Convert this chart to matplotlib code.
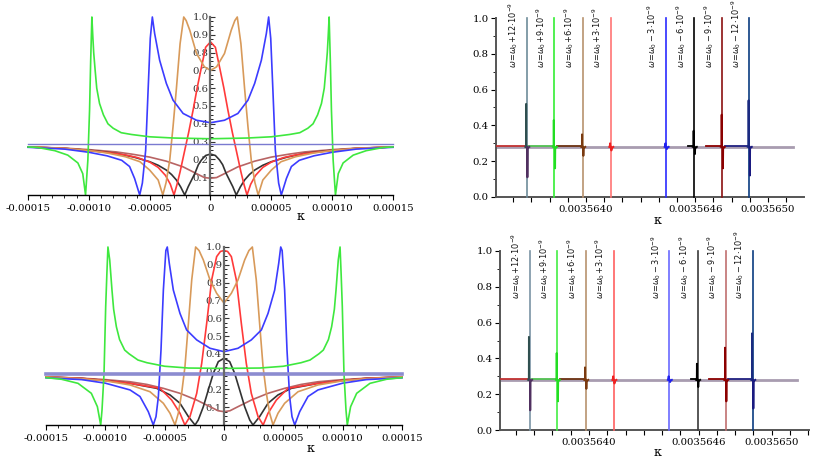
import matplotlib
matplotlib.use('Agg')
import matplotlib.pyplot as plt
import numpy as np
from matplotlib.ticker import MultipleLocator, FixedLocator, FuncFormatter

# ---------------- data (left panels, positive half, kappa in units of 1e-5) -------------
top_green_k = [0, 3, 5, 6.5, 7.34, 8.0, 8.43, 8.8, 9.12, 9.35, 9.48, 9.6, 9.67, 9.75, 9.85, 9.94, 10.08, 10.27, 10.5, 10.9, 11.73, 12.8, 14.2, 15]
top_green_y = [0.316, 0.32, 0.327, 0.34, 0.35, 0.375, 0.40, 0.45, 0.514, 0.6, 0.70, 0.8, 0.888, 1.0, 0.75, 0.477, 0.196, 0.0, 0.12, 0.18, 0.224, 0.249, 0.267, 0.27]
top_blue_k = [0, 1.15, 2.25, 3.08, 3.63, 4.18, 4.59, 4.78, 4.95, 5.14, 5.33, 5.6, 5.82, 6.24, 6.65, 7.3, 8.5, 10, 12, 15]
top_blue_y = [0.406, 0.42, 0.458, 0.533, 0.627, 0.757, 0.907, 1.0, 0.88, 0.57, 0.25, 0.067, 0.0, 0.093, 0.16, 0.195, 0.22, 0.24, 0.258, 0.268]
top_tan_k = [0, 0.5, 1.15, 1.7, 2.0, 2.2, 2.5, 2.8, 3.08, 3.35, 3.65, 3.92, 4.3, 5.0, 5.8, 7.0, 8.5, 10, 12, 15]
top_tan_y = [0.70, 0.72, 0.795, 0.925, 0.98, 1.0, 0.85, 0.6, 0.383, 0.196, 0.07, 0.0, 0.084, 0.14, 0.187, 0.215, 0.236, 0.25, 0.262, 0.27]
top_red_k = [0, 0.4, 0.74, 1.1, 1.43, 1.8, 2.12, 2.5, 2.75, 3.0, 3.3, 3.7, 4.3, 5.0, 6.0, 7.0, 8.0, 10, 12, 15]
top_red_y = [0.86, 0.83, 0.72, 0.6, 0.477, 0.35, 0.25, 0.13, 0.06, 0.0, 0.06, 0.11, 0.155, 0.185, 0.21, 0.225, 0.235, 0.25, 0.262, 0.27]
top_black_k = [0, 0.4, 0.74, 1.0, 1.28, 1.55, 1.83, 2.12, 2.45, 2.8, 3.2, 3.63, 4.3, 5.0, 6.3, 7.75, 9.5, 12, 15]
top_black_y = [0.23, 0.222, 0.197, 0.17, 0.122, 0.085, 0.047, 0.0, 0.045, 0.084, 0.115, 0.14, 0.167, 0.187, 0.213, 0.234, 0.248, 0.262, 0.27]
top_rosy_k = [0, 0.5, 1.15, 2.25, 3.63, 5.0, 6.5, 7.75, 10, 12, 15]
top_rosy_y = [0.094, 0.098, 0.12, 0.158, 0.19, 0.213, 0.23, 0.242, 0.255, 0.263, 0.27]
top_level = 0.284

bot_green_k = [0, 3, 5, 6.5, 7.25, 8.0, 8.37, 8.8, 9.07, 9.3, 9.44, 9.63, 9.78, 9.87, 9.97, 10.11, 10.28, 10.39, 10.67, 11.18, 12.3, 13.7, 15]
bot_green_y = [0.318, 0.32, 0.33, 0.35, 0.365, 0.4, 0.421, 0.48, 0.552, 0.65, 0.758, 0.927, 1.0, 0.85, 0.665, 0.29, 0.084, 0.0, 0.103, 0.178, 0.234, 0.257, 0.266]
bot_blue_k = [0, 1.18, 2.3, 3.15, 3.71, 4.27, 4.61, 4.78, 4.9, 5.11, 5.31, 5.53, 5.73, 5.96, 6.38, 7.08, 7.92, 10, 12, 15]
bot_blue_y = [0.412, 0.431, 0.478, 0.534, 0.627, 0.758, 0.908, 1.0, 0.98, 0.758, 0.42, 0.16, 0.047, 0.0, 0.075, 0.16, 0.197, 0.235, 0.255, 0.265]
bot_tan_k = [0, 0.62, 1.18, 1.74, 2.1, 2.39, 2.72, 3.0, 3.29, 3.57, 3.85, 4.13, 4.55, 5.11, 6.24, 7.92, 10, 12, 15]
bot_tan_y = [0.685, 0.74, 0.815, 0.927, 0.98, 1.0, 0.815, 0.571, 0.328, 0.178, 0.066, 0.0, 0.066, 0.122, 0.187, 0.225, 0.248, 0.26, 0.27]
bot_red_k = [0, 0.3, 0.62, 1.04, 1.46, 1.88, 2.3, 2.87, 3.3, 3.71, 4.41, 5.39, 7.92, 10, 12, 15]
bot_red_y = [0.98, 0.975, 0.946, 0.815, 0.571, 0.346, 0.178, 0.047, 0.0, 0.066, 0.14, 0.206, 0.234, 0.25, 0.262, 0.27]
bot_black_k = [0, 0.48, 0.9, 1.32, 1.74, 2.17, 2.44, 3.0, 3.71, 4.55, 5.67, 7.92, 10, 12, 15]
bot_black_y = [0.375, 0.356, 0.29, 0.197, 0.103, 0.028, 0.0, 0.047, 0.122, 0.169, 0.206, 0.234, 0.25, 0.262, 0.27]
bot_rosy_k = [0, 0.5, 1.18, 2.3, 3.71, 5.11, 6.5, 7.92, 10, 12, 15]
bot_rosy_y = [0.075, 0.08, 0.103, 0.14, 0.178, 0.206, 0.228, 0.243, 0.255, 0.263, 0.27]
bot_level = 0.286

# ---------------- data (right panels) ----------------
res_shift = ['+12', '+9', '+6', '+3', '-3', '-6', '-9', '-12']
res_kappa = [0.0035636745, 0.0035638265, 0.0035639820, 0.0035641360,
             0.0035644400, 0.0035645950, 0.0035647490, 0.0035648970]
res_peak = [0.52, 0.43, 0.35, 0.30, 0.30, 0.37, 0.46, 0.54]
res_dip = [0.11, 0.16, 0.23, 0.26, 0.27, 0.24, 0.16, 0.12]
base_level = 0.28
base_start = 0.0035635055
base_end = 0.0035651400
# coloured baseline pieces (start, end) for resonances +12, +9, +6, -6, -9, -12
seg_start = [0.0035635055, 0.0035636760, 0.0035638410, 0.0035645600, 0.0035646590, 0.0035647640]
seg_end = [0.0035636650, 0.0035638190, 0.0035639780, 0.0035645930, 0.0035647470, 0.0035648900]
right_xticks_labeled = [0.0035640, 0.0035646, 0.0035650]

# ---------------- styles ----------------
c_green, c_blue, c_tan, c_red, c_black, c_rosy = '#3ee83e', '#3c3cff', '#d89a5a', '#ff3a3a', '#333333', '#b86464'
top_line_cols = ['#6e8c9a', '#33ee33', '#b8926e', '#ff7474', '#2a2aff', '#000000', '#8b1010', '#0a3c80']
bot_line_cols = ['#7a94a4', '#44ee44', '#b8926e', '#ff6060', '#6a6aff', '#3a3a3a', '#c07070', '#0a3c80']
up_cols = ['#2f4f4f', '#22dd22', '#7a3a10', '#ee2020', '#2020ee', '#000000', '#8b0000', '#1a2a80']
dn_cols = ['#503060', '#22dd22', '#7a3a10', '#ee2020', '#2020ee', '#000000', '#8b0000', '#1a1a80']
seg_cols = ['#c03030', '#50c050', '#6b3010', '#000000', '#8b0000', '#202080']

TICKFONT = dict(family='DejaVu Serif', size=7.3)

fig = plt.figure(figsize=(8.17, 4.63), dpi=100)


def mirror(k, y):
    k = np.asarray(k) * 1e-5
    y = np.asarray(y)
    return np.concatenate([-k[::-1], k[1:]]), np.concatenate([y[::-1], y[1:]])


def xfmt_left(v, pos):
    if abs(v) < 1e-12:
        return '0'
    return f'{v:.5f}'


def setup_left(ax):
    ax.set_xlim(-15e-5, 15e-5)
    ax.set_ylim(0, 1.0)
    ax.patch.set_alpha(0)
    for s in ['top', 'right']:
        ax.spines[s].set_visible(False)
    ax.spines['left'].set_position(('data', 0))
    ax.spines['left'].set_color('#6a6a6a')
    ax.spines['left'].set_linewidth(1.6)
    ax.spines['bottom'].set_linewidth(1.0)
    ax.xaxis.set_major_locator(MultipleLocator(5e-5))
    ax.xaxis.set_minor_locator(MultipleLocator(1e-5))
    ax.xaxis.set_major_formatter(FuncFormatter(xfmt_left))
    ax.yaxis.set_major_locator(FixedLocator([0.1, 0.2, 0.3, 0.4, 0.5, 0.6, 0.7, 0.8, 0.9, 1.0]))
    ax.yaxis.set_minor_locator(MultipleLocator(0.025))
    ax.yaxis.set_major_formatter(FuncFormatter(lambda v, p: f'{v:.1f}'))
    ax.tick_params(axis='x', which='major', direction='out', length=3.5, width=0.8, pad=3)
    ax.tick_params(axis='x', which='minor', direction='out', length=2, width=0.6)
    ax.tick_params(axis='y', which='major', direction='in', length=3.5, width=0.8, pad=1.5, colors='#333333')
    ax.tick_params(axis='y', which='minor', direction='in', length=2, width=0.6)
    for lab in ax.get_xticklabels() + ax.get_yticklabels():
        lab.set_fontfamily(TICKFONT['family'])
        lab.set_fontsize(TICKFONT['size'])


def draw_left(ax, curves, level, level_lw, level_col):
    for (k, y, col) in curves:
        xx, yy = mirror(k, y)
        ax.plot(xx, yy, color=col, lw=1.2, clip_on=False, solid_joinstyle='round')
    ax.plot([-15e-5, 15e-5], [level, level], color=level_col, lw=level_lw, clip_on=False)


def xfmt_right(v, pos):
    for t in right_xticks_labeled:
        if abs(v - t) < 2e-10:
            return f'{t:.7f}'
    return ''


def setup_right(ax, xlim):
    ax.set_xlim(*xlim)
    ax.set_ylim(0, 1.0)
    ax.patch.set_alpha(0)
    for s in ['top', 'right']:
        ax.spines[s].set_visible(False)
    for s in ['left', 'bottom']:
        ax.spines[s].set_color('#555555')
        ax.spines[s].set_linewidth(1.4)
    ax.xaxis.set_major_locator(MultipleLocator(1e-7))
    ax.xaxis.set_major_formatter(FuncFormatter(xfmt_right))
    ax.yaxis.set_major_locator(MultipleLocator(0.2))
    ax.yaxis.set_minor_locator(MultipleLocator(0.1))
    ax.yaxis.set_major_formatter(FuncFormatter(lambda v, p: f'{v:.1f}'))
    ax.tick_params(axis='x', which='major', direction='out', length=3.5, width=0.8, pad=2)
    ax.tick_params(axis='y', which='major', direction='out', length=3.5, width=0.8, pad=2)
    ax.tick_params(axis='y', which='minor', direction='out', length=2, width=0.6)
    for lab in ax.get_xticklabels() + ax.get_yticklabels():
        lab.set_fontfamily(TICKFONT['family'])
        lab.set_fontsize(TICKFONT['size'])


def draw_right(ax, line_cols, label_y):
    ax.plot([base_start, base_end], [base_level, base_level], color='#a89cb0', lw=2.0, zorder=2)
    for s0, s1, c in zip(seg_start, seg_end, seg_cols):
        ax.plot([s0, s1], [base_level + 0.003, base_level + 0.003], color=c, lw=1.3, zorder=3)
    d = 1e-9
    for i, k in enumerate(res_kappa):
        ax.plot([k, k], [0, 1.0], color=line_cols[i], lw=1.2, zorder=4, clip_on=False)
        ax.plot([k - 8 * d, k - 4 * d, k - 3.5 * d, k - 3 * d, k - d],
                [base_level, base_level + 0.01, res_peak[i], base_level + 0.01, base_level],
                color=up_cols[i], lw=1.4, zorder=5)
        ax.plot([k + d, k + 3 * d, k + 3.5 * d, k + 4.5 * d, k + 8 * d, k + 14 * d],
                [base_level, base_level - 0.01, res_dip[i], base_level - 0.012, base_level - 0.004, base_level],
                color=dn_cols[i], lw=1.4, zorder=5)
        sign = res_shift[i][0]
        num = res_shift[i][1:]
        if sign == '+':
            txt = r'$\omega\!=\!\omega_0\!+\!' + num + r'\!\cdot\!10^{-9}$'
        else:
            txt = r'$\omega\!=\!\omega_0 - ' + num + r'\!\cdot\!10^{-9}$'
        ax.text(k - 7.5e-8, label_y, txt, rotation=90, ha='center', va='bottom',
                fontsize=5.9, color='#111111', zorder=6)


# ---------------- top-left ----------------
ax1 = fig.add_axes([28 / 817, 1 - 195 / 463, 365 / 817, 178 / 463])
setup_left(ax1)
draw_left(ax1, [(top_rosy_k, top_rosy_y, c_rosy), (top_black_k, top_black_y, c_black),
                (top_red_k, top_red_y, c_red), (top_tan_k, top_tan_y, c_tan),
                (top_blue_k, top_blue_y, c_blue), (top_green_k, top_green_y, c_green)],
          top_level, 1.0, '#7a7ad0')

# ---------------- bottom-left ----------------
ax3 = fig.add_axes([46 / 817, 1 - 425 / 463, 356 / 817, 178 / 463])
setup_left(ax3)
draw_left(ax3, [(bot_rosy_k, bot_rosy_y, c_rosy), (bot_black_k, bot_black_y, c_black),
                (bot_red_k, bot_red_y, c_red), (bot_tan_k, bot_tan_y, c_tan),
                (bot_blue_k, bot_blue_y, c_blue), (bot_green_k, bot_green_y, c_green)],
          bot_level, 2.6, '#8c8cd0')

# ---------------- top-right ----------------
ax2 = fig.add_axes([496 / 817, 1 - 197 / 463, 308 / 817, 179 / 463])
setup_right(ax2, (0.0035640 - 90 / 182 * 1e-6, 0.0035640 + 218 / 182 * 1e-6))
draw_right(ax2, top_line_cols, 0.72)

# ---------------- bottom-right ----------------
ax4 = fig.add_axes([500 / 817, 1 - 430 / 463, 309 / 817, 179 / 463])
setup_right(ax4, (0.0035640 - 89 / 182.5 * 1e-6, 0.0035640 + 220 / 182.5 * 1e-6))
draw_right(ax4, bot_line_cols, 0.73)

# kappa axis labels
for (x, y) in [(300, 216), (657, 220), (310, 449), (657, 453)]:
    fig.text(x / 817, 1 - y / 463, 'κ', ha='center', va='center', fontsize=9, family='DejaVu Serif')

fig.savefig('out.png', dpi=100)
